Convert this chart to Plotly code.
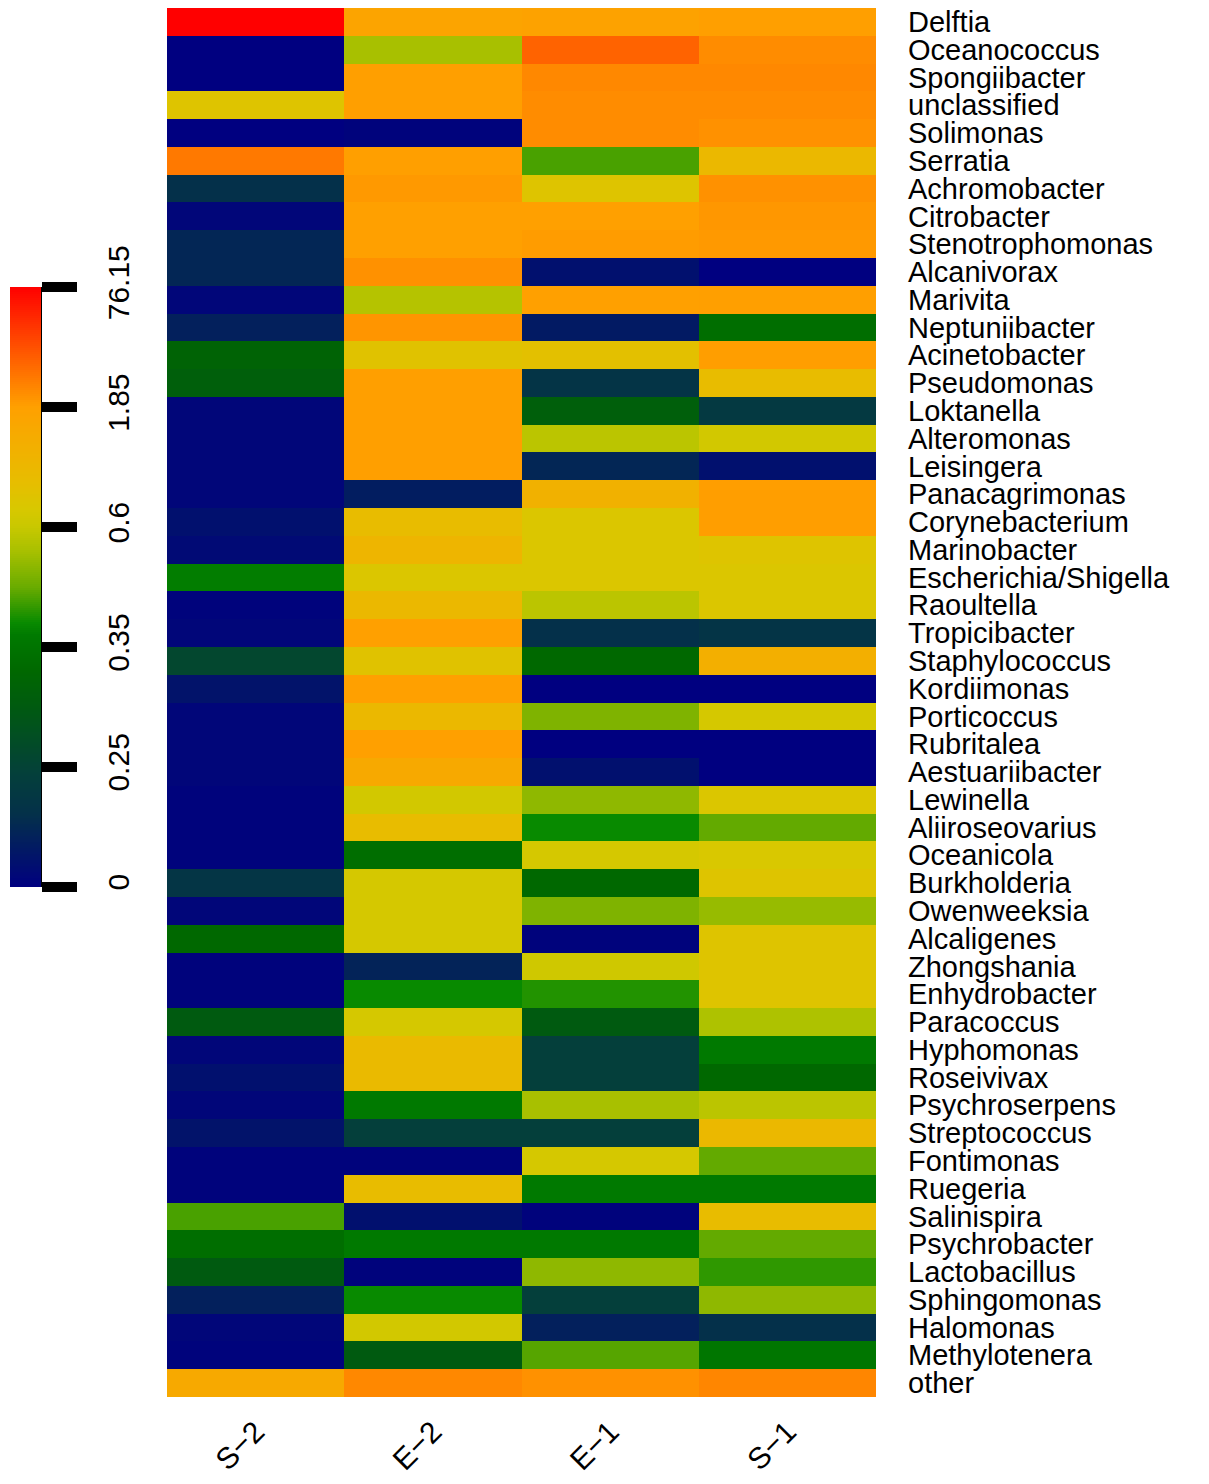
import numpy as np
import plotly.graph_objects as go

# Samples (columns) and genera (rows, top to bottom)
samples = ["S−2", "E−2", "E−1", "S−1"]

genera = [
    "Delftia", "Oceanococcus", "Spongiibacter", "unclassified", "Solimonas",
    "Serratia", "Achromobacter", "Citrobacter", "Stenotrophomonas", "Alcanivorax",
    "Marivita", "Neptuniibacter", "Acinetobacter", "Pseudomonas", "Loktanella",
    "Alteromonas", "Leisingera", "Panacagrimonas", "Corynebacterium", "Marinobacter",
    "Escherichia/Shigella", "Raoultella", "Tropicibacter", "Staphylococcus", "Kordiimonas",
    "Porticoccus", "Rubritalea", "Aestuariibacter", "Lewinella", "Aliiroseovarius",
    "Oceanicola", "Burkholderia", "Owenweeksia", "Alcaligenes", "Zhongshania",
    "Enhydrobacter", "Paracoccus", "Hyphomonas", "Roseivivax", "Psychroserpens",
    "Streptococcus", "Fontimonas", "Ruegeria", "Salinispira", "Psychrobacter",
    "Lactobacillus", "Sphingomonas", "Halomonas", "Methylotenera", "other",
]

# Relative abundance (%) per sample
s2 = [76.15, 0, 0, 0.9, 0, 20, 0.15, 0.02, 0.12, 0.12,
      0.02, 0.1, 0.32, 0.31, 0.02, 0.02, 0.02, 0.02, 0.05, 0.03,
      0.38, 0.01, 0.02, 0.26, 0.06, 0.02, 0.02, 0.02, 0.01, 0.01,
      0.01, 0.18, 0.02, 0.33, 0.01, 0.01, 0.3, 0.02, 0.05, 0.02,
      0.06, 0.01, 0.01, 0.45, 0.34, 0.3, 0.1, 0.02, 0.01, 1.6]

e2 = [1.75, 0.55, 2.5, 2.5, 0.01, 2.5, 5, 2, 2, 9,
      0.57, 7, 0.95, 2.5, 2.5, 2.5, 2.5, 0.09, 1.1, 1.3,
      0.85, 1.2, 1.9, 0.95, 1.85, 1.2, 1.85, 1.6, 0.72, 1.1,
      0.34, 0.75, 0.75, 0.75, 0.11, 0.4, 0.75, 1.15, 1.15, 0.37,
      0.23, 0.01, 1.1, 0.05, 0.37, 0.01, 0.4, 0.72, 0.3, 13]

e1 = [1.8, 30, 13, 11, 11, 0.45, 0.9, 1.85, 3.5, 0.05,
      1.85, 0.08, 1.0, 0.17, 0.31, 0.58, 0.12, 1.4, 0.85, 0.85,
      0.85, 0.58, 0.15, 0.33, 0, 0.5, 0, 0.05, 0.52, 0.4,
      0.75, 0.33, 0.5, 0.01, 0.68, 0.42, 0.3, 0.23, 0.23, 0.55,
      0.23, 0.75, 0.37, 0.01, 0.37, 0.52, 0.23, 0.1, 0.46, 9]

s1 = [2.5, 11, 13, 11, 9, 1.2, 9, 6, 5, 0,
      2.5, 0.34, 3, 1.1, 0.2, 0.72, 0.05, 3, 3, 0.9,
      0.85, 0.85, 0.17, 1.45, 0, 0.75, 0, 0, 0.85, 0.47,
      0.8, 0.9, 0.53, 0.9, 0.9, 0.9, 0.56, 0.37, 0.33, 0.58,
      1.2, 0.47, 0.37, 1.1, 0.47, 0.43, 0.52, 0.15, 0.36, 14]

# Colour breaks (equally spaced on the legend)
breaks = [0, 0.25, 0.35, 0.6, 1.85, 76.15]
break_labels = ["0", "0.25", "0.35", "0.6", "1.85", "76.15"]

palette = [
    [0.00, "#000080"],
    [0.12, "#04304a"],
    [0.19, "#04403a"],
    [0.30, "#005a10"],
    [0.36, "#006800"],
    [0.42, "#007a00"],
    [0.44, "#088a00"],
    [0.50, "#6aac00"],
    [0.56, "#a8c000"],
    [0.60, "#c8c800"],
    [0.63, "#d8c800"],
    [0.68, "#e8bc00"],
    [0.80, "#ffa000"],
    [1.00, "#ff0000"],
]

levels = np.arange(len(breaks))
values = np.array([s2, e2, e1, s1]).T          # rows = genera, cols = samples
ranks = np.interp(values, breaks, levels)      # position on the break scale

FONT = "Liberation Sans, Arial, sans-serif"

fig = go.Figure()

fig.add_trace(go.Heatmap(
    z=ranks, x=samples, y=genera,
    customdata=values,
    colorscale=palette, zmin=0, zmax=levels[-1],
    showscale=False,
    hovertemplate="%{y} / %{x}: %{customdata}<extra></extra>",
))

# Legend strip drawn as its own small heatmap
grad = np.linspace(0, levels[-1], 301)
fig.add_trace(go.Heatmap(
    z=grad.reshape(-1, 1), x=[0], y=grad,
    colorscale=palette, zmin=0, zmax=levels[-1],
    showscale=False, hoverinfo="skip",
    xaxis="x2", yaxis="y2",
))

W, H = 1209, 1484
ml, mr, mt, mb = 10, 333, 8, 87
plot_w = W - ml - mr
plot_h = H - mt - mb
heat_left = 167
bar_w = 31
bar_top, bar_bottom = 287, 887

fig.update_layout(
    width=W, height=H,
    margin=dict(l=ml, r=mr, t=mt, b=mb, autoexpand=False),
    paper_bgcolor="white", plot_bgcolor="white",
    font=dict(family=FONT, color="black"),
    xaxis=dict(
        domain=[(heat_left - ml) / plot_w, 1],
        tickangle=-45, tickfont=dict(size=30, family=FONT, color="black"),
        ticks="", showgrid=False, zeroline=False, showline=False,
        ticklabelstandoff=10, automargin=False,
    ),
    yaxis=dict(
        autorange="reversed", side="right",
        tickmode="array", tickvals=genera, ticktext=genera,
        tickfont=dict(size=29, family=FONT, color="black"),
        ticks="", showgrid=False, zeroline=False, showline=False,
        ticklabelstandoff=31, automargin=False,
    ),
    xaxis2=dict(
        domain=[0, bar_w / plot_w], anchor="y2", range=[-0.5, 0.5],
        visible=False,
    ),
    yaxis2=dict(
        domain=[(H - mb - bar_bottom) / plot_h, (H - mb - bar_top) / plot_h],
        anchor="x2", side="right", range=[-0.002, levels[-1] + 0.002],
        tickmode="array", tickvals=levels, ticktext=break_labels,
        ticks="outside", ticklen=35, tickwidth=10, tickcolor="black",
        showline=True, linecolor="black", linewidth=1,
        tickangle=-90, tickfont=dict(size=30, family=FONT, color="black"),
        ticklabelstandoff=16, automargin=False,
        showgrid=False, zeroline=False,
    ),
)

fig.write_html("out.html")
